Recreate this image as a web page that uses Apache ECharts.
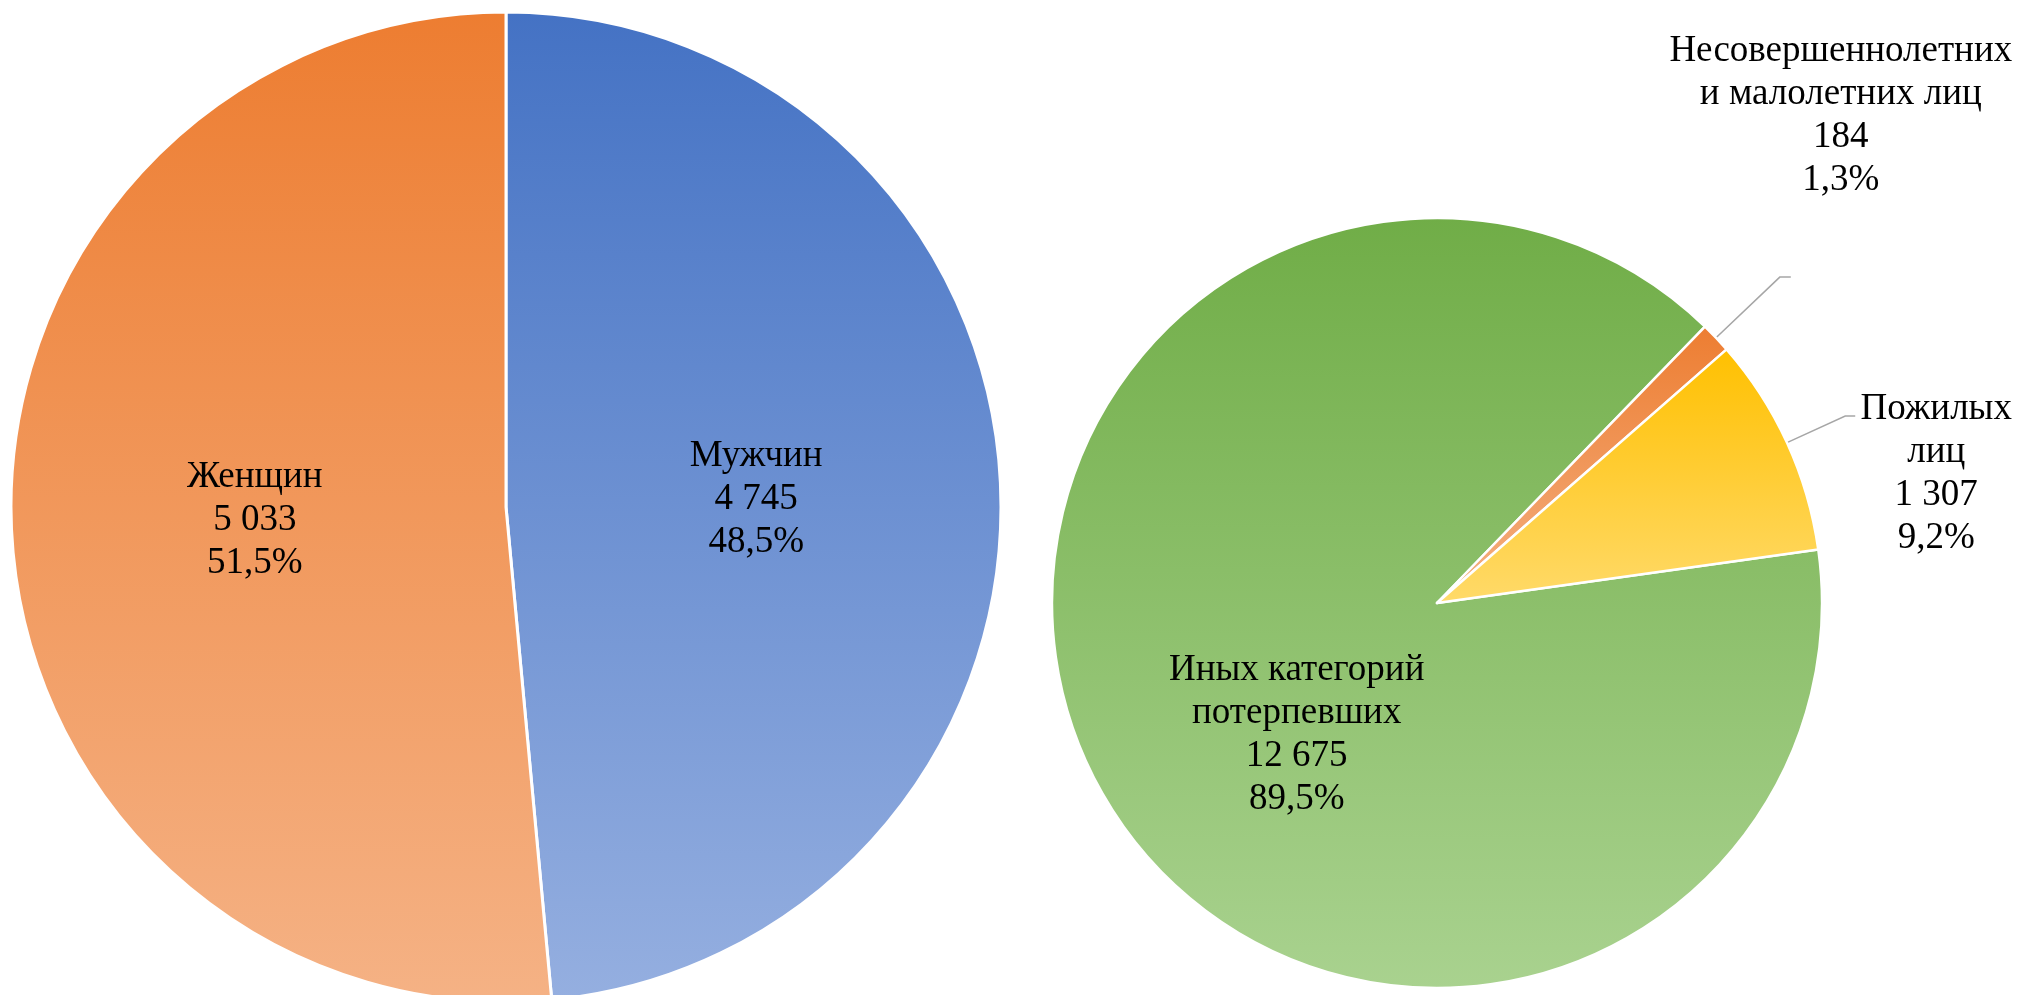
<!DOCTYPE html>
<html>
<head>
<meta charset="utf-8">
<script src="https://cdn.jsdelivr.net/npm/echarts@6/dist/echarts.min.js"></script>
<style>
  html, body { margin: 0; padding: 0; background: #fff; }
  #chart { width: 2022px; height: 995px; }
</style>
</head>
<body>
<div id="chart"></div>
<script>
// левая диаграмма: пол потерпевших
const genderNames = ["Мужчин", "Женщин"];
const genderValues = [4745, 5033];

// правая диаграмма: категории потерпевших
const categoryNames = ["Иных категорий\nпотерпевших", "Несовершеннолетних\nи малолетних лиц", "Пожилых\nлиц"];
const categoryValues = [12675, 184, 1307];

// цвета (верх -> низ градиента)
const genderColors = [["#4472C4", "#95AFE0"], ["#ED7D31", "#F5B285"]];
const categoryColors = [["#70AD47", "#A9D28F"], ["#ED7D31", "#F4B183"], ["#FFC000", "#FFDA6A"]];

// сдвиг подписей
const genderLabelShift = [[0, 4], [-1, 2]];
const categoryLabelShift = [[34, 43], [50, -161], [81, 58]];
const categoryLineLength = [[0, 0], [88, 11], [64, 10]];

const fmtNum = (v) => String(v).replace(/\B(?=(\d{3})+(?!\d))/g, " ");
const fmtLabel = (p) => p.name + "\n" + fmtNum(p.value) + "\n" + p.percent.toFixed(1).replace(".", ",") + "%";

const grad = (c) => ({
  type: "linear", x: 0, y: 0, x2: 0, y2: 1,
  colorStops: [{ offset: 0, color: c[0] }, { offset: 1, color: c[1] }],
});

const labelFont = {
  color: "#000",
  fontFamily: "Liberation Serif",
  fontSize: 37,
  lineHeight: 43,
};

// подпись внутри сектора, сдвинутая от штатного места
const shiftInside = (p, s) => ({
  x: p.labelRect.x + p.labelRect.width / 2 + s[0],
  y: p.labelRect.y + p.labelRect.height / 2 + s[1],
  align: "center", verticalAlign: "middle",
});

var option = {
  animation: false,
  backgroundColor: "#fff",
  series: [
    {
      type: "pie",
      center: [506, 507],
      radius: 495,
      startAngle: 90,
      clockwise: true,
      silent: true,
      itemStyle: { borderColor: "#fff", borderWidth: 3 },
      label: Object.assign({ show: true, position: "inside", formatter: fmtLabel }, labelFont),
      labelLine: { show: false },
      emphasis: { disabled: true },
      labelLayout: (p) => shiftInside(p, genderLabelShift[p.dataIndex]),
      data: genderNames.map((n, i) => ({
        name: n,
        value: genderValues[i],
        itemStyle: { color: grad(genderColors[i]) },
      })),
    },
    {
      type: "pie",
      center: [1437, 603],
      radius: 385,
      startAngle: 8,
      clockwise: true,
      silent: true,
      avoidLabelOverlap: false,
      itemStyle: { borderColor: "#fff", borderWidth: 2.5 },
      label: Object.assign({ show: true, position: "outside", formatter: fmtLabel, align: "center" }, labelFont),
      labelLine: { show: true, lineStyle: { color: "#A6A6A6", width: 1.5 } },
      emphasis: { disabled: true },
      labelLayout: function (p) {
        const s = categoryLabelShift[p.dataIndex];
        if (p.dataIndex > 0 && p.labelLinePoints) {
          const end = p.labelLinePoints[p.labelLinePoints.length - 1];
          return {
            x: end[0] + s[0], y: end[1] + s[1],
            align: "center", verticalAlign: "middle",
            labelLinePoints: p.labelLinePoints,
          };
        }
        return shiftInside(p, s);
      },
      data: categoryNames.map((n, i) => {
        const item = {
          name: n,
          value: categoryValues[i],
          itemStyle: { color: grad(categoryColors[i]) },
        };
        if (i === 0) {
          item.label = { position: "inside" };
          item.labelLine = { show: false };
        } else {
          item.labelLine = { length: categoryLineLength[i][0], length2: categoryLineLength[i][1] };
        }
        return item;
      }),
    },
  ],
};

var myChart = echarts.init(document.getElementById("chart"));
myChart.setOption(option);
</script>
</body>
</html>
